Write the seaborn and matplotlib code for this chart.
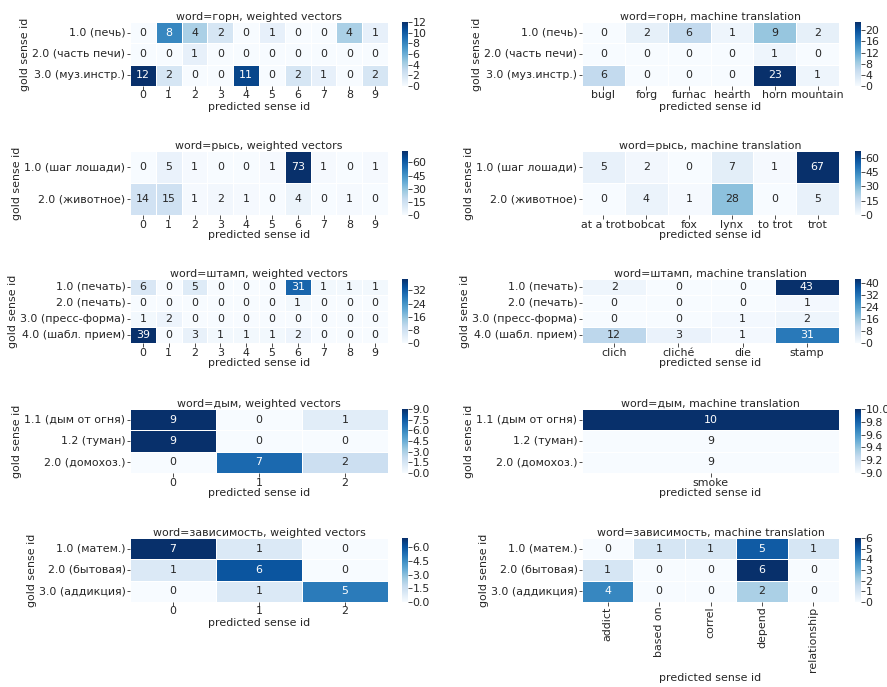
import numpy as np
import pandas as pd
import matplotlib
matplotlib.use("Agg")
import matplotlib.pyplot as plt
import matplotlib.ticker as mticker
import seaborn as sns

# ---- data ----
gorn_rows = ["1.0 (печь)", "2.0 (часть печи)", "3.0 (муз.инстр.)"]
gorn_wv_cols = ["0", "1", "2", "3", "4", "5", "6", "7", "8", "9"]
gorn_wv = [[0, 8, 4, 2, 0, 1, 0, 0, 4, 1],
           [0, 0, 1, 0, 0, 0, 0, 0, 0, 0],
           [12, 2, 0, 0, 11, 0, 2, 1, 0, 2]]
gorn_mt_cols = ["bugl", "forg", "furnac", "hearth", "horn", "mountain"]
gorn_mt = [[0, 2, 6, 1, 9, 2],
           [0, 0, 0, 0, 1, 0],
           [6, 0, 0, 0, 23, 1]]

rys_rows = ["1.0 (шаг лошади)", "2.0 (животное)"]
rys_wv_cols = ["0", "1", "2", "3", "4", "5", "6", "7", "8", "9"]
rys_wv = [[0, 5, 1, 0, 0, 1, 73, 1, 0, 1],
          [14, 15, 1, 2, 1, 0, 4, 0, 1, 0]]
rys_mt_cols = ["at a trot", "bobcat", "fox", "lynx", "to trot", "trot"]
rys_mt = [[5, 2, 0, 7, 1, 67],
          [0, 4, 1, 28, 0, 5]]

shtamp_rows = ["1.0 (печать)", "2.0 (печать)", "3.0 (пресс-форма)", "4.0 (шабл. прием)"]
shtamp_wv_cols = ["0", "1", "2", "3", "4", "5", "6", "7", "8", "9"]
shtamp_wv = [[6, 0, 5, 0, 0, 0, 31, 1, 1, 1],
             [0, 0, 0, 0, 0, 0, 1, 0, 0, 0],
             [1, 2, 0, 0, 0, 0, 0, 0, 0, 0],
             [39, 0, 3, 1, 1, 1, 2, 0, 0, 0]]
shtamp_mt_cols = ["clich", "cliché", "die", "stamp"]
shtamp_mt = [[2, 0, 0, 43],
             [0, 0, 0, 1],
             [0, 0, 1, 2],
             [12, 3, 1, 31]]

dym_rows = ["1.1 (дым от огня)", "1.2 (туман)", "2.0 (домохоз.)"]
dym_wv_cols = ["0", "1", "2"]
dym_wv = [[9, 0, 1],
          [9, 0, 0],
          [0, 7, 2]]
dym_mt_cols = ["smoke"]
dym_mt = [[10], [9], [9]]

zav_rows = ["1.0 (матем.)", "2.0 (бытовая)", "3.0 (аддикция)"]
zav_wv_cols = ["0", "1", "2"]
zav_wv = [[7, 1, 0],
          [1, 6, 0],
          [0, 1, 5]]
zav_mt_cols = ["addict", "based on", "correl", "depend", "relationship"]
zav_mt = [[0, 1, 1, 5, 1],
          [1, 0, 0, 6, 0],
          [4, 0, 0, 2, 0]]

panels = [
    ("горн", gorn_rows, gorn_wv_cols, gorn_wv, gorn_mt_cols, gorn_mt),
    ("рысь", rys_rows, rys_wv_cols, rys_wv, rys_mt_cols, rys_mt),
    ("штамп", shtamp_rows, shtamp_wv_cols, shtamp_wv, shtamp_mt_cols, shtamp_mt),
    ("дым", dym_rows, dym_wv_cols, dym_wv, dym_mt_cols, dym_mt),
    ("зависимость", zav_rows, zav_wv_cols, zav_wv, zav_mt_cols, zav_mt),
]

# ---- layout ----
W, H = 887, 687
DPI = 72
FS = 11
plt.rcParams["font.family"] = ["DejaVu Sans"]
plt.rcParams["font.size"] = FS
plt.rcParams["text.color"] = "#262626"
plt.rcParams["axes.labelcolor"] = "#262626"
plt.rcParams["xtick.color"] = "#262626"
plt.rcParams["ytick.color"] = "#262626"
fig = plt.figure(figsize=(W / DPI, H / DPI), dpi=DPI)

tops = [22, 151, 279, 409, 538]
hm_h = 64
col_x = [(130, 388, 402), (582, 839, 855)]
cb_w = 6


def draw(ax, cax, rows, cols, vals, title, rotate=False):
    df = pd.DataFrame(vals, index=rows, columns=cols)
    sns.heatmap(df, ax=ax, cbar_ax=cax, cmap="Blues", annot=True, fmt="d",
                annot_kws={"fontsize": FS},
                linewidths=1, linecolor="white",
                cbar_kws={"ticks": mticker.MaxNLocator(6)})
    ax.set_title(title, fontsize=FS, pad=2)
    ax.set_xlabel("predicted sense id", fontsize=FS, labelpad=1)
    ax.set_ylabel("gold sense id", fontsize=FS, labelpad=2)
    ax.set_yticklabels(ax.get_yticklabels(), rotation=0, fontsize=FS)
    ax.set_xticklabels(ax.get_xticklabels(), rotation=90 if rotate else 0,
                       fontsize=FS)
    ax.tick_params(pad=1)
    cax.tick_params(labelsize=FS, pad=1)
    cb = ax.collections[0].colorbar
    cb.outline.set_linewidth(0)


for i, (word, rows, wv_cols, wv, mt_cols, mt) in enumerate(panels):
    top = tops[i]
    y0 = 1 - (top + hm_h) / H
    h = hm_h / H
    for j, (cols, vals, kind) in enumerate([(wv_cols, wv, "weighted vectors"),
                                            (mt_cols, mt, "machine translation")]):
        x0, x1, cx = col_x[j]
        ax = fig.add_axes([x0 / W, y0, (x1 - x0) / W, h])
        cax = fig.add_axes([cx / W, y0, cb_w / W, h])
        draw(ax, cax, rows, cols, vals, f"word={word}, {kind}",
             rotate=(i == 4 and j == 1))

fig.savefig("out.png", dpi=DPI)
